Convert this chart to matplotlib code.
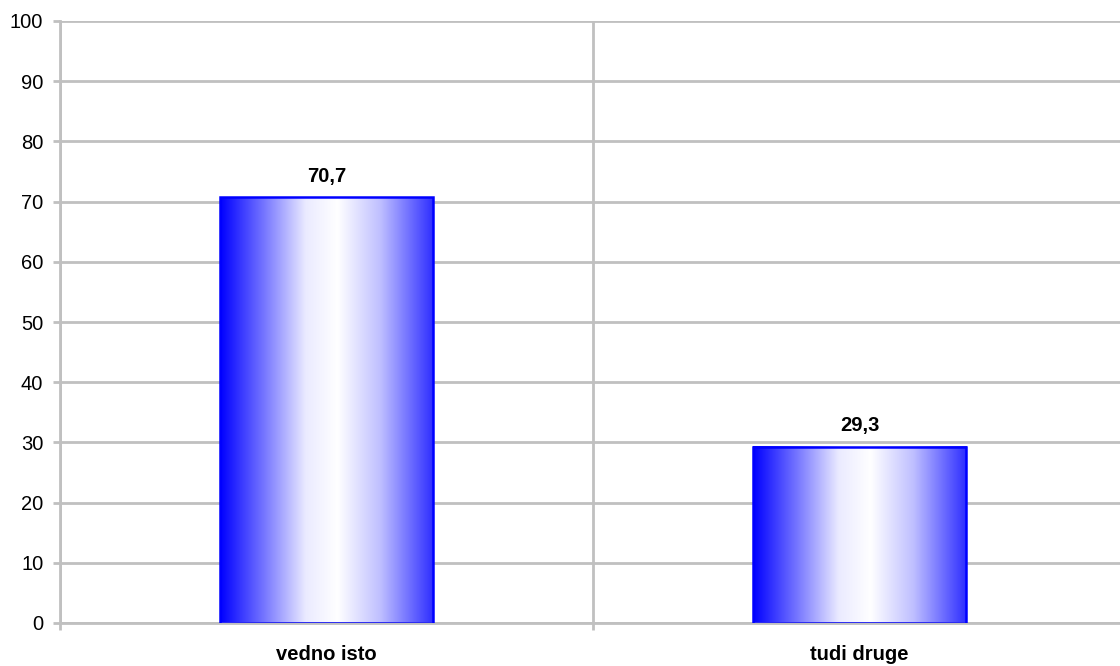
import numpy as np
import matplotlib
matplotlib.use("Agg")
import matplotlib.pyplot as plt
from matplotlib.colors import LinearSegmentedColormap

categories = ["vedno isto", "tudi druge"]
values = [70.7, 29.3]
value_labels = ["70,7", "29,3"]
yticks = [0, 10, 20, 30, 40, 50, 60, 70, 80, 90, 100]

plt.rcParams["font.family"] = ["Liberation Sans", "DejaVu Sans"]

fig = plt.figure(figsize=(11.2, 6.66), dpi=100)
# axes spans x 60..1126 px, y 21..623 px
ax = fig.add_axes([60 / 1120, 1 - 623 / 666, 1066 / 1120, 602 / 666])

grid_c = "#c0c0c0"
ax.set_xlim(-0.5, 1.5)
ax.set_ylim(0, 100)
ax.set_yticks(yticks)
ax.set_yticklabels([str(t) for t in yticks], fontsize=14.5)
ax.set_xticks([-0.5, 0.5, 1.5])
ax.set_xticklabels([])
ax.tick_params(axis="both", color=grid_c, width=2, length=5, pad=7)
for s in ["top", "right"]:
    ax.spines[s].set_visible(False)
for s in ["left", "bottom"]:
    ax.spines[s].set_color(grid_c)
    ax.spines[s].set_linewidth(2)
ax.grid(True, color=grid_c, linewidth=2)
ax.set_axisbelow(True)

cmap = LinearSegmentedColormap.from_list(
    "barfade",
    [(0.0, (0, 0, 1)), (0.2, (0.45, 0.45, 1)), (0.4, (0.92, 0.92, 1)),
     (0.55, (1, 1, 1)), (0.75, (0.75, 0.75, 1)), (1.0, (0.18, 0.18, 1))])
grad = np.linspace(0, 1, 256).reshape(1, -1)

x = np.arange(len(categories))
bars = ax.bar(x, values, width=0.4, facecolor="none", edgecolor="#0000ff",
              linewidth=1.8, zorder=3)
for b, lab in zip(bars, value_labels):
    x0, y0 = b.get_x(), b.get_y()
    w, h = b.get_width(), b.get_height()
    ax.imshow(grad, cmap=cmap, aspect="auto", extent=[x0, x0 + w, y0, y0 + h],
              zorder=2, interpolation="bilinear")
    ax.annotate(lab, (x0 + w / 2, y0 + h), xytext=(0, 11),
                textcoords="offset points", ha="center", va="baseline",
                fontsize=14.5, fontweight="bold")
ax.set_xlim(-0.5, 1.5)
ax.set_ylim(0, 100)

for xi, c in zip(x, categories):
    ax.annotate(c, (xi, 0), xytext=(0, -27), textcoords="offset points",
                ha="center", va="baseline", fontsize=14.5, fontweight="bold",
                annotation_clip=False)

fig.savefig("out.png", dpi=100)
